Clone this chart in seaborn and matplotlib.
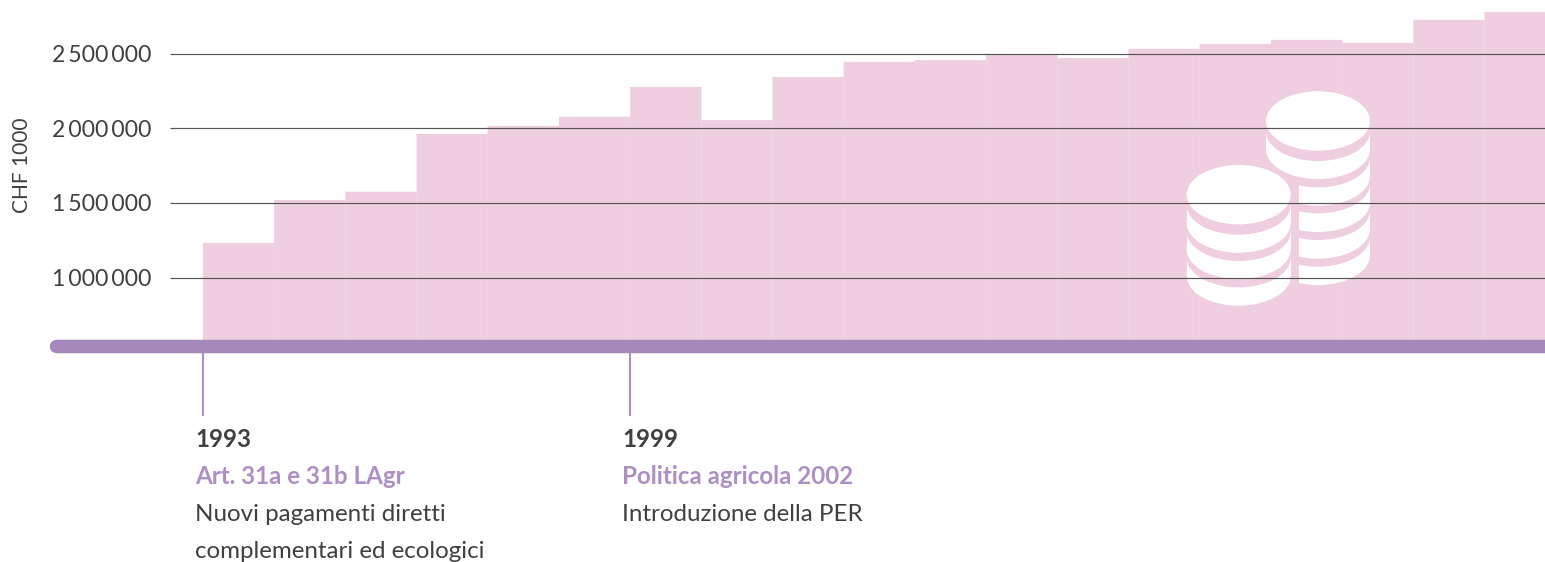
import matplotlib
matplotlib.use("Agg")
import matplotlib.pyplot as plt
from matplotlib.patches import Ellipse, Rectangle
from matplotlib.transforms import Affine2D
import seaborn as sns
import pandas as pd

years = list(range(1993, 2012))
values = [1232000, 1520000, 1574000, 1962000, 2015000, 2076000, 2276000, 2055000,
          2343000, 2444000, 2457000, 2490000, 2470000, 2531000, 2564000, 2591000,
          2571000, 2725000, 2778000]
grid_values = [1000000, 1500000, 2000000, 2500000]
grid_labels = ["1\u2009000\u2009000", "1\u2009500\u2009000", "2\u2009000\u2009000", "2\u2009500\u2009000"]
y_label = "CHF 1000"
events = [
    (1993, "1993", "Art. 31a e 31b LAgr", ["Nuovi pagamenti diretti", "complementari ed ecologici"]),
    (1999, "1999", "Politica agricola 2002", ["Introduzione della PER"]),
]

W, H = 1545, 562
PINK, PURPLE, LILAC, DARK = "#EFCFDF", "#A689BB", "#AE8FC4", "#404040"
FONT = "Lato"

sns.set_theme(style="white")
plt.rcParams["font.family"] = [FONT, "DejaVu Sans"]

fig = plt.figure(figsize=(W / 100, H / 100), dpi=100, facecolor="white")
ax = fig.add_axes([170 / W, 0, (W - 170) / W, 1])

BAR_W = 71.2
px2val = lambda p: 1e6 + (277.7 - p) * 6693.0
idx2px = lambda i: 203 + (i + 0.5) * BAR_W

df = pd.DataFrame({"year": [str(y) for y in years], "value": values})
sns.barplot(data=df, x="year", y="value", color=PINK, saturation=1, width=1, ax=ax, zorder=1)
base = px2val(341)
for p in ax.patches:
    p.set_height(p.get_height() - base)
    p.set_y(base)
    p.set_edgecolor(PINK)
    p.set_linewidth(0.12)
    p.set_snap(False)

ax.set_xlim((170 - 203) / BAR_W - 0.5, (W - 203) / BAR_W - 0.5)
ax.set_ylim(px2val(H), px2val(0))
sns.despine(ax=ax, left=True, bottom=True)
ax.set_xlabel("")
ax.set_xticks([])
ax.set_yticks(grid_values, grid_labels)
ax.tick_params(axis="y", length=0, pad=13.7, labelsize=16.6, labelcolor=DARK)
ax.set_facecolor("none")
ax.grid(False)
ax.hlines(grid_values, *ax.get_xlim(), color="#555555", lw=0.85, zorder=4)

ptx = Affine2D().scale(1, -1).translate(0, H)  # icon / annotation layout, in picture pixels
ax.set_ylabel(y_label, fontsize=15, color=DARK)
ax.yaxis.set_label_coords(32, 165, transform=ptx)


def ell(cx, zy, color, clip=None):
    e = Ellipse((cx, zy / 3), 104, 59.4, fc=color, ec="none", transform=ptx, zorder=2)
    ax.add_patch(e)
    if clip is not None:
        e.set_clip_path(clip)


def body(cx, z0, z1, clip=None):
    r = Rectangle((cx - 52, z0 / 3), 104, (z1 - z0) / 3, fc="white", ec="none", transform=ptx, zorder=2)
    ax.add_patch(r)
    if clip is not None:
        r.set_clip_path(clip)


def stack(cx, top, layers, clip_from=None):
    # layers: (pink ellipse centre, white ellipse centre), drawn from the bottom up
    for i, (pk, wh) in enumerate(reversed(layers)):
        clip = None
        if clip_from is not None and len(layers) - 1 - i >= clip_from:
            clip = Rectangle((1298.7, 0), 100, 330, transform=ptx)
        body(cx, pk, wh, clip)
        ell(cx, wh, "white", clip)
        ell(cx, pk, PINK, clip)
    ell(cx, top, "white")


stack(1318, 363, [(394, 448), (473, 528), (551, 607), (631, 687), (711, 766)], clip_from=1)
stack(1238.7, 584, [(615, 669), (694, 748), (773, 828)])

ax.plot([(49 + 6.75 - 203) / BAR_W - 0.5, (W + 20 - 203) / BAR_W - 0.5], [px2val(346)] * 2,
        color=PURPLE, lw=13.5 * 0.72, solid_capstyle="round", clip_on=False, zorder=5)

for year, head, title, lines in events:
    i = years.index(year)
    x = idx2px(i - 0.5)
    ax.plot([i - 0.5] * 2, [px2val(352), px2val(416)], color=LILAC, lw=1.5,
            solid_capstyle="butt", zorder=3)
    tx = x - 8
    ax.text(tx, 446.7, head, transform=ptx, fontsize=17.4, fontweight="bold", color=DARK, va="baseline")
    ax.text(tx, 483.5, title, transform=ptx, fontsize=17.4, fontweight="bold", color=LILAC, va="baseline")
    for k, line in enumerate(lines):
        ax.text(tx, 521 + 37 * k, line, transform=ptx, fontsize=17.4, color=DARK, va="baseline")

fig.savefig("out.png", dpi=100, facecolor="white")
